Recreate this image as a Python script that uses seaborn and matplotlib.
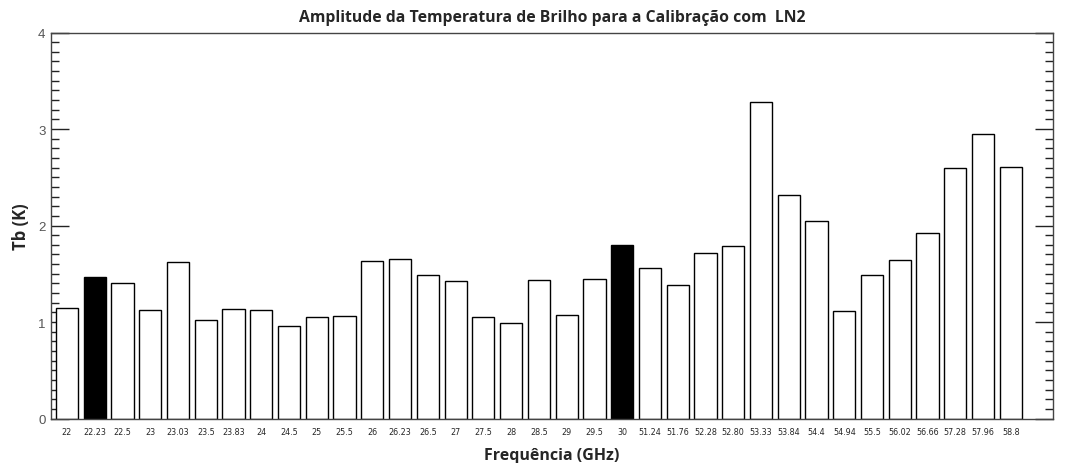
import matplotlib
matplotlib.use("Agg")
import matplotlib.pyplot as plt
from matplotlib.ticker import MultipleLocator
import seaborn as sns
import pandas as pd

# Channel frequencies (GHz) and brightness-temperature amplitude (K)
frequencies = ["22", "22.23", "22.5", "23", "23.03", "23.5", "23.83", "24", "24.5",
               "25", "25.5", "26", "26.23", "26.5", "27", "27.5", "28", "28.5", "29",
               "29.5", "30", "51.24", "51.76", "52.28", "52.80", "53.33", "53.84",
               "54.4", "54.94", "55.5", "56.02", "56.66", "57.28", "57.96", "58.8"]
amplitude = [1.15, 1.47, 1.40, 1.12, 1.625, 1.02, 1.13, 1.12, 0.955,
             1.05, 1.06, 1.635, 1.65, 1.49, 1.43, 1.05, 0.99, 1.44, 1.075,
             1.45, 1.80, 1.56, 1.38, 1.715, 1.785, 3.28, 2.32,
             2.05, 1.11, 1.49, 1.645, 1.92, 2.60, 2.95, 2.61]
y_ticks = [0, 1, 2, 3, 4]
# Channels highlighted in solid black
highlighted = ["22.23", "30"]

df = pd.DataFrame({"freq": frequencies, "tb": amplitude})
palette = {f: ("black" if f in highlighted else "white") for f in frequencies}

sns.set_style("white")
plt.rcParams["font.family"] = ["Open Sans", "DejaVu Sans"]

fig = plt.figure(figsize=(10.67, 4.64), dpi=100)
ax = fig.add_axes([0.0478, 0.0959, 0.9391, 0.8319])

sns.barplot(data=df, x="freq", y="tb", hue="freq", palette=palette, legend=False,
            order=frequencies, hue_order=frequencies, width=0.8,
            edgecolor="black", linewidth=1.0, saturation=1, ax=ax)

ax.set_xlim(-0.576, 35.52)
ax.set_ylim(0, 4)

for side in ["left", "right", "top", "bottom"]:
    ax.spines[side].set_visible(True)
    ax.spines[side].set_color("#444444")
    ax.spines[side].set_linewidth(1.0)

ax.set_yticks(y_ticks)
ax.set_yticklabels([str(v) for v in y_ticks], fontfamily="Liberation Sans")
ax.yaxis.set_minor_locator(MultipleLocator(0.1))
ax.set_xticks(range(len(frequencies)))
ax.set_xticklabels(frequencies, fontfamily="DejaVu Sans")

ax.tick_params(axis="y", which="major", direction="in", length=13, width=1,
               left=True, right=True, labelsize=9.5, labelcolor="#555555", pad=4,
               color="#222222")
ax.tick_params(axis="y", which="minor", direction="in", length=5.5, width=1,
               left=True, right=True, color="#222222")
ax.tick_params(axis="x", which="major", direction="in", length=7, width=0.8,
               bottom=True, top=False, labelsize=5.8, pad=6, color="#222222")

ax.set_xlabel("Frequência (GHz)", fontsize=11.5, fontweight="bold", labelpad=8)
ax.set_ylabel("Tb (K)", fontsize=12, fontweight="bold", labelpad=6)
ax.set_title("Amplitude da Temperatura de Brilho para a Calibração com  LN2",
             fontsize=11.3, fontweight="bold", pad=8)

fig.savefig("out.png", dpi=100)
